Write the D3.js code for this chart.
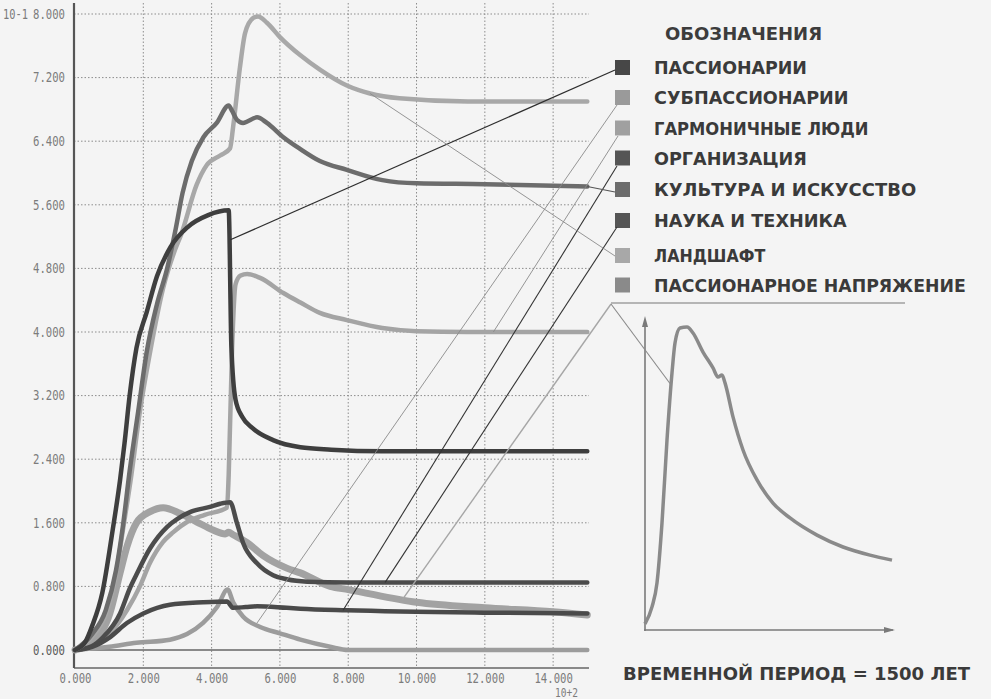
<!DOCTYPE html>
<html><head><meta charset="utf-8">
<script src="https://cdn.jsdelivr.net/npm/d3@7"></script>
<style>
html,body{margin:0;padding:0;background:#f4f4f4;}
svg{display:block;}
</style></head><body>
<svg id="c" width="991" height="699"></svg>
<script>
// ---------- DATA ----------
const yTicks = [0, 0.8, 1.6, 2.4, 3.2, 4.0, 4.8, 5.6, 6.4, 7.2, 8.0];
const xTicks = [0, 2, 4, 6, 8, 10, 12, 14];

const legendTitle = "ОБОЗНАЧЕНИЯ";
const legendLabels = ["ПАССИОНАРИИ", "СУБПАССИОНАРИИ", "ГАРМОНИЧНЫЕ ЛЮДИ", "ОРГАНИЗАЦИЯ",
  "КУЛЬТУРА И ИСКУССТВО", "НАУКА И ТЕХНИКА", "ЛАНДШАФТ", "ПАССИОНАРНОЕ НАПРЯЖЕНИЕ"];
const periodLabel = "ВРЕМЕННОЙ ПЕРИОД = 1500 ЛЕТ";

const passionaries = [[0,0],[0.3,0.1],[0.5,0.3],[0.8,0.72],[1.1,1.5],[1.32,2.14],[1.45,2.6],[1.6,3.2],[1.8,3.8],[2.1,4.25],[2.4,4.7],[2.8,5.07],[3.3,5.32],[3.9,5.47],[4.5,5.53],[4.58,3.8],[4.7,3.15],[4.9,2.93],[5.2,2.79],[5.8,2.64],[6.6,2.55],[7.5,2.52],[9,2.5],[15,2.5]];
const subpassionaries = [[0,0],[1.0,0.04],[1.8,0.09],[2.78,0.13],[3.28,0.2],[3.75,0.34],[4.16,0.54],[4.47,0.76],[4.63,0.6],[4.92,0.42],[5.42,0.29],[6.0,0.21],[6.6,0.13],[7.47,0.04],[8.0,0.0],[15,0.0]];
const harmonious = [[0,0],[0.5,0.05],[1.02,0.21],[1.52,0.5],[1.9,0.8],[2.2,1.1],[2.58,1.36],[2.87,1.48],[3.28,1.61],[3.8,1.7],[4.45,1.79],[4.5,2.2],[4.6,3.8],[4.7,4.6],[4.85,4.71],[5.04,4.73],[5.42,4.68],[6.1,4.49],[6.6,4.37],[7.17,4.24],[7.96,4.15],[9.0,4.05],[10,4.01],[11.5,4.0],[15,4.0]];
const organization = [[0,0],[0.5,0.04],[1.02,0.16],[1.52,0.34],[2.0,0.46],[2.78,0.57],[3.75,0.6],[4.45,0.61],[4.63,0.53],[5.0,0.54],[5.33,0.55],[6.2,0.53],[6.6,0.52],[7.96,0.5],[11.95,0.47],[15,0.46]];
const culture = [[0,0],[0.5,0.2],[0.9,0.5],[1.2,1.0],[1.4,1.55],[1.6,2.25],[1.85,3.0],[2.1,3.75],[2.4,4.35],[2.7,4.8],[2.95,5.3],[3.15,5.75],[3.42,6.15],[3.76,6.45],[4.15,6.63],[4.5,6.85],[4.6,6.78],[4.74,6.67],[4.92,6.63],[5.33,6.7],[5.62,6.63],[6.1,6.45],[6.6,6.3],[7.17,6.15],[7.96,6.04],[9.0,5.91],[10,5.87],[12,5.86],[15,5.83]];
const science = [[0,0],[0.5,0.05],[0.82,0.16],[1.32,0.46],[1.61,0.78],[1.8,0.95],[2.2,1.28],[2.7,1.55],[3.0,1.65],[3.4,1.74],[3.95,1.8],[4.25,1.84],[4.54,1.86],[4.74,1.6],[4.92,1.35],[5.33,1.09],[5.8,0.94],[6.2,0.89],[6.8,0.86],[8,0.85],[15,0.85]];
const landscape = [[0,0],[0.5,0.17],[0.9,0.45],[1.2,0.95],[1.4,1.5],[1.65,2.2],[1.9,3.0],[2.2,3.75],[2.58,4.55],[2.9,5.0],[3.12,5.24],[3.56,5.85],[3.86,6.1],[4.25,6.22],[4.54,6.31],[4.63,6.58],[4.83,7.33],[4.98,7.76],[5.22,7.95],[5.36,7.97],[5.62,7.89],[6.0,7.71],[6.6,7.48],[7.17,7.3],[7.96,7.1],[8.64,7.0],[9.5,6.94],[11.5,6.9],[15,6.9]];
const tension = [[0,0],[0.5,0.1],[1.02,0.46],[1.32,0.97],[1.52,1.3],[1.8,1.6],[2.2,1.74],[2.58,1.79],[3.07,1.72],[3.57,1.61],[4.04,1.51],[4.4,1.46],[4.5,1.48],[4.63,1.45],[5.04,1.35],[5.5,1.19],[6.2,1.03],[6.6,0.97],[7.47,0.8],[8,0.76],[10,0.6],[12,0.53],[14,0.48],[15,0.44]];

// inset: passionary tension over the period (relative units 0..100)
const insetCurve = [[0,2],[2.8,7.4],[4.8,15.1],[6.8,34.3],[8.8,60.9],[10.8,82.4],[12,92],[14,96.8],[16.8,97.1],[19.2,95.2],[23.2,89.1],[27.2,84],[29.2,81.1],[30.8,81.7],[32,79.2],[35.2,68.3],[39.2,57.7],[44.8,48.1],[51.2,40.7],[58,35.9],[68.8,30.4],[79.2,26.6],[90,24],[98.8,22.4]];

// points on the curves where the legend leader lines end (same order as legendLabels)
const leaderAnchors = [[4.55,5.16],[5.33,0.34],[12.25,4.0],[7.85,0.5],[15.0,5.83],[9.08,0.85],[8.64,7.0],[9.58,0.63]];
const insetAnchor = [10, 79];

// ---------- LAYOUT / STYLE ----------
const svg = d3.select('#c');
const W = 991, H = 699;
svg.append('rect').attr('width',W).attr('height',H).attr('fill','#f4f4f4');

const x = d3.scaleLinear().domain([0, 15.05]).range([75, 589]);
const y = d3.scaleLinear().domain([0, 8]).range([650, 14]);
const plotTop = 3, plotBottom = 668, plotLeft = 74, plotRight = 589;

// grid
const grid = svg.append('g');
grid.selectAll('line.h').data(yTicks.filter(d=>d>0)).join('line')
  .attr('x1', plotLeft).attr('x2', plotRight)
  .attr('y1', d=>y(d)).attr('y2', d=>y(d))
  .attr('stroke','#8c8c8c').attr('stroke-width',1).attr('stroke-dasharray','1.5,2');
grid.selectAll('line.v').data(xTicks.filter(d=>d>0)).join('line')
  .attr('x1', d=>x(d)).attr('x2', d=>x(d))
  .attr('y1', plotTop).attr('y2', plotBottom)
  .attr('stroke','#8c8c8c').attr('stroke-width',1).attr('stroke-dasharray','1.5,2');

// zero line and frame
svg.append('line').attr('x1',plotLeft).attr('x2',plotRight).attr('y1',y(0)).attr('y2',y(0))
  .attr('stroke','#666').attr('stroke-width',1.5);
svg.append('line').attr('x1',plotLeft).attr('x2',plotRight).attr('y1',plotBottom).attr('y2',plotBottom)
  .attr('stroke','#666').attr('stroke-width',1.6);
svg.append('line').attr('x1',plotLeft).attr('x2',plotLeft).attr('y1',plotTop).attr('y2',plotBottom)
  .attr('stroke','#555').attr('stroke-width',2.2);

// axes labels
const tickFont = "'DejaVu Sans Mono', monospace";
const gy = svg.append('g').attr('transform',`translate(${plotLeft},0)`)
  .call(d3.axisLeft(y).tickValues(yTicks).tickFormat(d3.format('.3f')).tickSize(0).tickPadding(9));
gy.select('.domain').remove();
gy.selectAll('text').attr('font-family',tickFont).attr('font-size',13.5)
  .attr('fill', d=> d===0 ? '#5a5a5a' : '#7c7c7c')
  .attr('textLength', function(){ return this.textContent.length*6.4; })
  .attr('lengthAdjust','spacingAndGlyphs');

const gx = svg.append('g').attr('transform',`translate(0,${plotBottom})`)
  .call(d3.axisBottom(x).tickValues(xTicks).tickFormat(d3.format('.3f')).tickSize(0).tickPadding(5));
gx.select('.domain').remove();
gx.selectAll('text').attr('font-family',tickFont).attr('font-size',13.5).attr('fill','#7c7c7c')
  .attr('textLength', function(){ return this.textContent.length*6.4; })
  .attr('lengthAdjust','spacingAndGlyphs');

// exponent marks
svg.append('text').attr('x',3).attr('y',y(8)+4.5).text('10-1')
  .attr('font-family',tickFont).attr('font-size',13.5).attr('fill','#7c7c7c')
  .attr('textLength',25).attr('lengthAdjust','spacingAndGlyphs');
svg.append('text').attr('x',555).attr('y',697).text('10+2')
  .attr('font-family',tickFont).attr('font-size',12).attr('fill','#7c7c7c')
  .attr('textLength',23).attr('lengthAdjust','spacingAndGlyphs');

// curves
const line = d3.line().x(d=>x(d[0])).y(d=>y(d[1])).curve(d3.curveMonotoneX);
const seriesDraw = [
  {d: tension, c:'#a2a2a2', w:7},
  {d: subpassionaries, c:'#9c9c9c', w:4.5},
  {d: harmonious, c:'#a4a4a4', w:4.5},
  {d: science, c:'#4c4c4c', w:4.5},
  {d: organization, c:'#4a4a4a', w:4.5},
  {d: landscape, c:'#a8a8a8', w:4.5},
  {d: culture, c:'#6c6c6c', w:4.5},
  {d: passionaries, c:'#3e3e3e', w:4.5}
];
svg.append('g').selectAll('path').data(seriesDraw).join('path')
  .attr('d', s=>line(s.d)).attr('fill','none')
  .attr('stroke', s=>s.c).attr('stroke-width', s=>s.w)
  .attr('stroke-linejoin','round').attr('stroke-linecap','round');

// legend
const legendFont = "'DejaVu Sans', sans-serif";
const rowY = [67.5, 97.5, 128, 158, 189.5, 220.5, 255.5, 285];
const squareColors = ['#474747','#9a9a9a','#a0a0a0','#555555','#6c6c6c','#555555','#a8a8a8','#8a8a8a'];
const sqX = 615, sqS = 15, textX = 654;
const textW = s => { const sp = (s.match(/ /g)||[]).length; return (s.length-sp)*13.9 + sp*6; };

svg.append('text').attr('x',665).attr('y',40).text(legendTitle)
  .attr('font-family',legendFont).attr('font-weight','bold').attr('font-size',17.5)
  .attr('fill','#3c3c3c').attr('textLength',157).attr('lengthAdjust','spacingAndGlyphs');

const lg = svg.append('g');
lg.selectAll('rect').data(legendLabels).join('rect')
  .attr('x', sqX).attr('y', (d,i)=>rowY[i]-sqS/2).attr('width',sqS).attr('height',sqS)
  .attr('fill',(d,i)=>squareColors[i]);
lg.selectAll('text').data(legendLabels).join('text')
  .attr('x', textX).attr('y', (d,i)=>rowY[i]+6.5).text(d=>d)
  .attr('font-family',legendFont).attr('font-weight','bold').attr('font-size',17.5)
  .attr('fill','#3a3a3a').attr('textLength', d=>textW(d)).attr('lengthAdjust','spacingAndGlyphs');

// underline of the last legend entry
const apex = [611, 304];
svg.append('line').attr('x1',apex[0]).attr('x2',905).attr('y1',303).attr('y2',303)
  .attr('stroke','#777').attr('stroke-width',1.2);

// leader lines
const legendEnds = [[615,70],[617,105],[618,136],[617,166],[615,192],[617,227],[615,256],apex];
const leaderStyle = [
  {c:'#2e2e2e', w:1.3}, {c:'#8a8a8a', w:0.9}, {c:'#8a8a8a', w:0.9}, {c:'#333', w:1.1},
  {c:'#555', w:1.2}, {c:'#333', w:1.1}, {c:'#8a8a8a', w:0.9}, {c:'#a6a6a6', w:1.4}
];
svg.append('g').selectAll('line').data(leaderAnchors).join('line')
  .attr('x1', d=>x(d[0])).attr('y1', d=>y(d[1]))
  .attr('x2', (d,i)=>legendEnds[i][0]).attr('y2', (d,i)=>legendEnds[i][1])
  .attr('stroke', (d,i)=>leaderStyle[i].c).attr('stroke-width',(d,i)=>leaderStyle[i].w);

// inset
const ix = d3.scaleLinear().domain([0,100]).range([645, 895]);
const iy = d3.scaleLinear().domain([0,100]).range([630, 318]);
const inset = svg.append('g');
inset.append('line').attr('x1',ix(0)).attr('x2',ix(0)).attr('y1',iy(0)+1).attr('y2',iy(100)+2)
  .attr('stroke','#7a7a7a').attr('stroke-width',1.6);
inset.append('line').attr('x1',ix(0)-1).attr('x2',ix(100)-2).attr('y1',iy(0)).attr('y2',iy(0))
  .attr('stroke','#7a7a7a').attr('stroke-width',1.6);
inset.append('path').attr('d',`M${ix(0)},${iy(100)-2} L${ix(0)-3},${iy(100)+9} L${ix(0)+3},${iy(100)+9}Z`).attr('fill','#7a7a7a');
inset.append('path').attr('d',`M${ix(100)},${iy(0)} L${ix(100)-11},${iy(0)-3} L${ix(100)-11},${iy(0)+3}Z`).attr('fill','#7a7a7a');
const iline = d3.line().x(d=>ix(d[0])).y(d=>iy(d[1])).curve(d3.curveMonotoneX);
inset.append('path').attr('d', iline(insetCurve)).attr('fill','none')
  .attr('stroke','#8a8a8a').attr('stroke-width',3.5).attr('stroke-linejoin','round');
svg.append('line').attr('x1',apex[0]).attr('y1',apex[1])
  .attr('x2', ix(insetAnchor[0])).attr('y2', iy(insetAnchor[1]))
  .attr('stroke','#8a8a8a').attr('stroke-width',1.1);

// period label
svg.append('text').attr('x',623).attr('y',680).text(periodLabel)
  .attr('font-family',legendFont).attr('font-weight','bold').attr('font-size',18.5)
  .attr('fill','#3a3a3a').attr('textLength',347).attr('lengthAdjust','spacingAndGlyphs');
</script>
</body></html>
